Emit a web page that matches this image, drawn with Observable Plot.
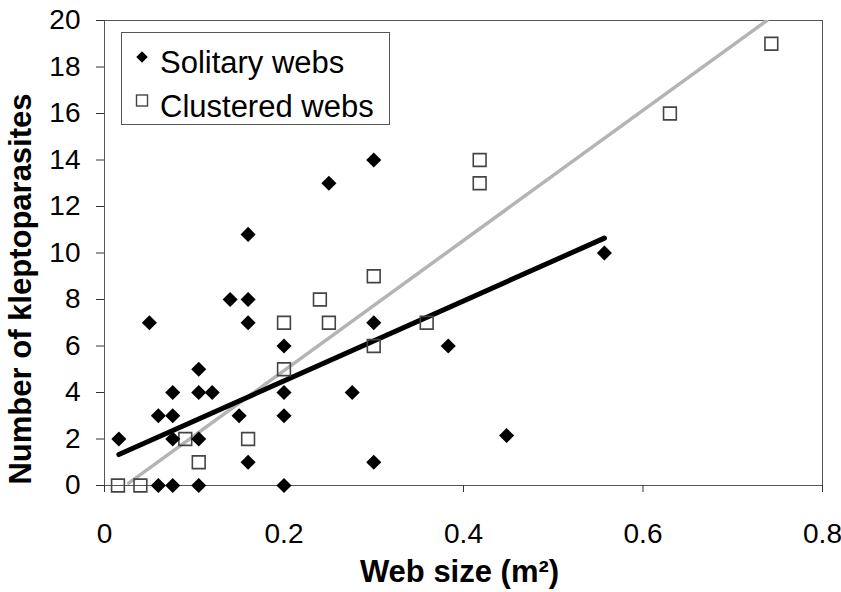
<!DOCTYPE html>
<html>
<head>
<meta charset="utf-8">
<script src="https://cdn.jsdelivr.net/npm/d3@7"></script>
<script src="https://cdn.jsdelivr.net/npm/@observablehq/plot@0.6"></script>
<style>
  html, body { margin: 0; padding: 0; background: #fff; }
  #wrap { position: relative; width: 841px; height: 592px; font-family: "Liberation Sans", Arial, sans-serif; }
  #legend { position: absolute; left: 121px; top: 32px; }
</style>
</head>
<body>
<div id="wrap"></div>
<script>
// ---- data ----
const solitaryX = [0.016, 0.05, 0.06, 0.06, 0.076, 0.076, 0.076, 0.076, 0.105, 0.105, 0.105, 0.105, 0.12, 0.14, 0.15, 0.16, 0.16, 0.16, 0.16, 0.2, 0.2, 0.2, 0.2, 0.25, 0.276, 0.30, 0.30, 0.30, 0.383, 0.448, 0.557];
const solitaryY = [2, 7, 0, 3, 0, 2, 3, 4, 0, 2, 4, 5, 4, 8, 3, 1, 7, 8, 10.8, 0, 3, 4, 6, 13, 4, 1, 7, 14, 6, 2.15, 10];

const clusteredX = [0.015, 0.04, 0.09, 0.105, 0.16, 0.2, 0.2, 0.24, 0.25, 0.30, 0.30, 0.359, 0.418, 0.418, 0.63, 0.743];
const clusteredY = [0, 0, 2, 1, 2, 5, 7, 8, 7, 6, 9, 7, 13, 14, 16, 19];

// fitted trend lines (end points)
const solitaryFitX = [0.016, 0.557];
const solitaryFitY = [1.33, 10.64];
const clusteredFitX = [0.027, 0.738];
const clusteredFitY = [0.1, 20];

const xTicks = [0, 0.2, 0.4, 0.6, 0.8];
const yTicks = [0, 2, 4, 6, 8, 10, 12, 14, 16, 18, 20];

const xLabel = "Web size (m²)";
const yLabel = "Number of kleptoparasites";
const seriesNames = ["Solitary webs", "Clustered webs"];

// ---- tables ----
const solitary = solitaryX.map((x, i) => ({x, y: solitaryY[i]}));
const clustered = clusteredX.map((x, i) => ({x, y: clusteredY[i]}));
const solFit = solitaryFitX.map((x, i) => ({x, y: solitaryFitY[i]}));
const cluFit = clusteredFitX.map((x, i) => ({x, y: clusteredFitY[i]}));

const font = "'Liberation Sans', Arial, sans-serif";

const chart = Plot.plot({
  width: 841,
  height: 592,
  marginLeft: 104,
  marginRight: 19,
  marginTop: 20,
  marginBottom: 107,
  style: {fontFamily: font, color: "#000", background: "#fff", overflow: "visible"},
  x: {domain: [0, 0.8]},
  y: {domain: [0, 20]},
  marks: [
    Plot.frame({stroke: "#555", strokeWidth: 1}),
    Plot.axisX(xTicks, {tickSize: 7, tickPadding: 31, fontSize: 28, tickFormat: d => String(d), label: null, stroke: "#333"}),
    Plot.axisY(yTicks, {tickSize: 8, tickPadding: 16, fontSize: 28, tickFormat: d => String(d), label: null, stroke: "#333"}),
    Plot.line(cluFit, {x: "x", y: "y", stroke: "#b4b4b4", strokeWidth: 3.5, clip: true}),
    Plot.line(solFit, {x: "x", y: "y", stroke: "#000", strokeWidth: 5, strokeLinecap: "round"}),
    Plot.dot(clustered, {x: "x", y: "y", symbol: "square", r: 7.2, stroke: "#444", strokeWidth: 1.6, fill: "none"}),
    Plot.dot(solitary, {x: "x", y: "y", symbol: "diamond2", r: 6.8, fill: "#000", stroke: "none"}),
    Plot.text([xLabel], {frameAnchor: "bottom", textAnchor: "middle", dy: 87, dx: -4, lineAnchor: "middle", fontSize: 31, fontWeight: "bold", fill: "#000"}),
    Plot.text([yLabel], {frameAnchor: "left", textAnchor: "middle", dx: -83, dy: 36, rotate: -90, lineAnchor: "middle", fontSize: 31, fontWeight: "bold", fill: "#000"})
  ]
});

const wrap = document.getElementById("wrap");
wrap.appendChild(chart);

// legend box
const ns = "http://www.w3.org/2000/svg";
const leg = d3.create("svg").attr("id", "legend").attr("width", 270).attr("height", 94)
  .attr("xmlns", ns);
leg.append("rect").attr("x", 0.5).attr("y", 0.5).attr("width", 268).attr("height", 92)
  .attr("fill", "#fff").attr("stroke", "#555").attr("stroke-width", 1);
leg.append("path").attr("d", d3.symbol(d3.symbolDiamond2, 85)()).attr("transform", "translate(21,25)").attr("fill", "#000");
leg.append("rect").attr("x", 15.5).attr("y", 63).attr("width", 11).attr("height", 11)
  .attr("fill", "none").attr("stroke", "#444").attr("stroke-width", 1.4);
leg.append("text").attr("x", 39).attr("y", 41).attr("font-family", font).attr("font-size", 31).text(seriesNames[0]);
leg.append("text").attr("x", 39).attr("y", 85).attr("font-family", font).attr("font-size", 31).text(seriesNames[1]);
wrap.appendChild(leg.node());
</script>
</body>
</html>
